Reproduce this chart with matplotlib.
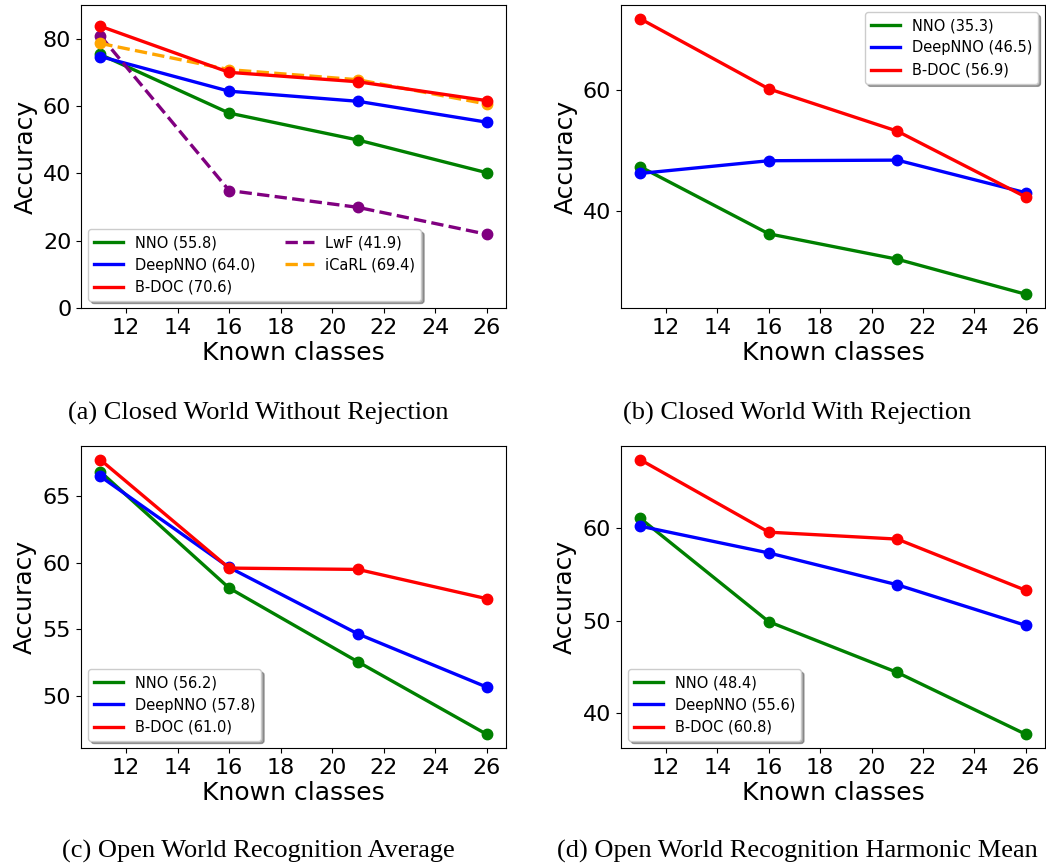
import matplotlib
matplotlib.use("Agg")
import matplotlib.pyplot as plt

known_classes = [11, 16, 21, 26]

# (a) Closed World Without Rejection
a_nno = [75.3, 57.9, 49.9, 40.2]
a_deepnno = [74.7, 64.4, 61.4, 55.2]
a_bdoc = [83.7, 70.0, 67.2, 61.6]
a_lwf = [80.9, 34.9, 29.9, 21.9]
a_icarl = [78.6, 70.8, 67.8, 60.6]
a_labels = ["NNO (55.8)", "DeepNNO (64.0)", "B-DOC (70.6)", "LwF (41.9)", "iCaRL (69.4)"]

# (b) Closed World With Rejection
b_nno = [47.3, 36.2, 32.0, 26.2]
b_deepnno = [46.2, 48.3, 48.4, 43.0]
b_bdoc = [71.8, 60.2, 53.2, 42.3]
b_labels = ["NNO (35.3)", "DeepNNO (46.5)", "B-DOC (56.9)"]

# (c) Open World Recognition Average
c_nno = [66.85, 58.1, 52.55, 47.1]
c_deepnno = [66.5, 59.65, 54.65, 50.65]
c_bdoc = [67.75, 59.6, 59.5, 57.3]
c_labels = ["NNO (56.2)", "DeepNNO (57.8)", "B-DOC (61.0)"]

# (d) Open World Recognition Harmonic Mean
d_nno = [61.1, 49.9, 44.4, 37.7]
d_deepnno = [60.25, 57.35, 53.9, 49.5]
d_bdoc = [67.45, 59.6, 58.85, 53.3]
d_labels = ["NNO (48.4)", "DeepNNO (55.6)", "B-DOC (60.8)"]

captions = ["(a) Closed World Without Rejection",
            "(b) Closed World With Rejection",
            "(c) Open World Recognition Average",
            "(d) Open World Recognition Harmonic Mean"]

W, H = 1046, 868
fig = plt.figure(figsize=(W / 100, H / 100), dpi=100)

def axes_px(l, t, r, b):
    return fig.add_axes([l / W, 1 - b / H, (r - l) / W, (b - t) / H])

ax_a = axes_px(81, 5, 506, 308)
ax_b = axes_px(621, 5, 1045, 308)
ax_c = axes_px(81, 446, 506, 748)
ax_d = axes_px(621, 446, 1045, 748)

lw = 2.4
ms = 7.5

def series(ax, y, color, label, ls="-"):
    ax.plot(known_classes, y, ls, color=color, lw=lw, label=label)
    ax.plot(known_classes, y, "o", color=color, ms=ms)

def style(ax):
    ax.set_xlabel("Known classes", fontsize=18, labelpad=2)
    ax.set_ylabel("Accuracy", fontsize=18)
    ax.tick_params(labelsize=16)
    ax.set_xticks([12, 14, 16, 18, 20, 22, 24, 26])

def plot3(ax, nno, deep, bdoc, labels):
    series(ax, nno, "green", labels[0])
    series(ax, deep, "blue", labels[1])
    series(ax, bdoc, "red", labels[2])

# (a)
series(ax_a, a_nno, "green", a_labels[0])
series(ax_a, a_deepnno, "blue", a_labels[1])
series(ax_a, a_lwf, "purple", a_labels[3], "--")
series(ax_a, a_icarl, "orange", a_labels[4], "--")
series(ax_a, a_bdoc, "red", a_labels[2])
ax_a.set_ylim(0, 90)
ax_a.set_yticks([0, 20, 40, 60, 80])
h, l = ax_a.get_legend_handles_labels()
order = [0, 1, 4, 2, 3]
ax_a.legend([h[i] for i in order], [l[i] for i in order], ncol=2, loc="lower left",
            fontsize=10.5, shadow=True)
style(ax_a)

# (b)
plot3(ax_b, b_nno, b_deepnno, b_bdoc, b_labels)
ax_b.set_yticks([40, 60])
ax_b.legend(loc="upper right", fontsize=10.5, shadow=True)
style(ax_b)

# (c)
plot3(ax_c, c_nno, c_deepnno, c_bdoc, c_labels)
ax_c.set_yticks([50, 55, 60, 65])
ax_c.legend(loc="lower left", fontsize=10.5, shadow=True)
style(ax_c)

# (d)
plot3(ax_d, d_nno, d_deepnno, d_bdoc, d_labels)
ax_d.set_yticks([40, 50, 60])
ax_d.legend(loc="lower left", fontsize=10.5, shadow=True)
style(ax_d)

cap_font = dict(family="Liberation Serif", fontsize=19, ha="center", va="center")
fig.text(258 / W, 1 - 413 / H, captions[0], **cap_font)
fig.text(797 / W, 1 - 413 / H, captions[1], **cap_font)
fig.text(258 / W, 1 - 851 / H, captions[2], **cap_font)
fig.text(797 / W, 1 - 851 / H, captions[3], **cap_font)

fig.savefig("out.png", dpi=100)
